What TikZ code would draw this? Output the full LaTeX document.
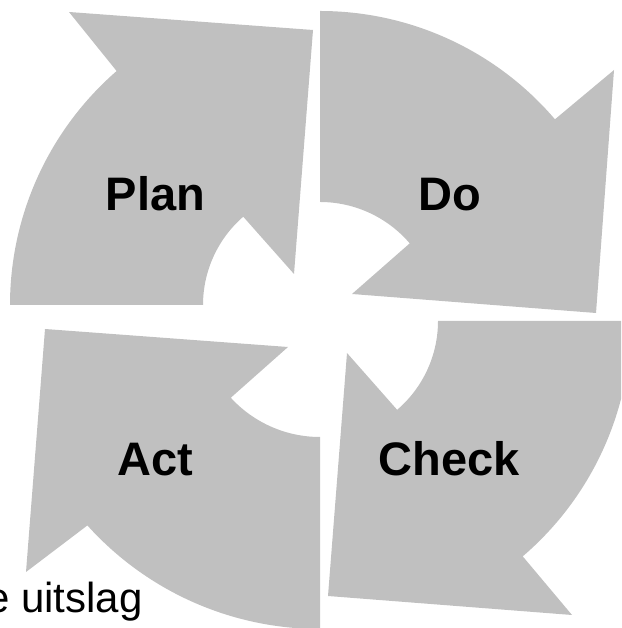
\documentclass[tikz,border=0pt]{standalone}
\usepackage{fontspec}
\setmainfont{Liberation Sans}
\begin{document}
\begin{tikzpicture}[x=1pt,y=1pt,
  arrowshape/.style={fill=shapegray, draw=none},
  biglabel/.style={font=\fontsize{47}{56}\selectfont\bfseries, text=black, inner sep=0pt, anchor=base},
  smalltext/.style={font=\fontsize{42}{50}\selectfont, text=black, inner sep=0pt, anchor=base west}]
\definecolor{shapegray}{RGB}{192,192,192}
\path[use as bounding box] (0,0) rectangle (621,628);
\clip (0,0) rectangle (621,628);
% Plan
\fill[arrowshape] ([shift={(320,323)}]180:310) -- ([shift={(320,323)}]180:117)
  arc[start angle=180,end angle=131,radius=117] -- (294,354) -- (313,598) -- (69,616)
  -- ([shift={(320,323)}]131:310) arc[start angle=131,end angle=180,radius=310] -- cycle;
% Do
\fill[arrowshape] ([shift={(320,308)}]90:309) arc[start angle=90,end angle=40.5,radius=309]
  -- (614,558) -- (596,315) -- (352,334) -- ([shift={(320,308)}]40.5:118)
  arc[start angle=40.5,end angle=90,radius=118] -- cycle;
% Check
\fill[arrowshape] ([shift={(321,307)}]0:117) -- ([shift={(321,307)}]0:310)
  arc[start angle=0,end angle=-49.4,radius=310] -- (572,13) -- (328,32) -- (347,275)
  -- ([shift={(321,307)}]-49.4:117) arc[start angle=-49.4,end angle=0,radius=117] -- cycle;
% Act
\fill[arrowshape] (45,299) -- (288,281) -- ([shift={(320,312)}]222.5:121)
  arc[start angle=222.5,end angle=270,radius=121] -- ([shift={(320,312)}]270:313)
  arc[start angle=270,end angle=222,radius=313] -- (26,56) -- cycle;
% labels
\node[biglabel] (plan) at (155.5,417) {Plan};
\node[biglabel] (do) at (449.5,417) {Do};
\node[biglabel] (act) at (155.5,152) {Act};
\node[biglabel] (check) at (449.5,152) {Check};
\node[smalltext] (uitslag) at (-14,15) {e uitslag};
\end{tikzpicture}
\end{document}
